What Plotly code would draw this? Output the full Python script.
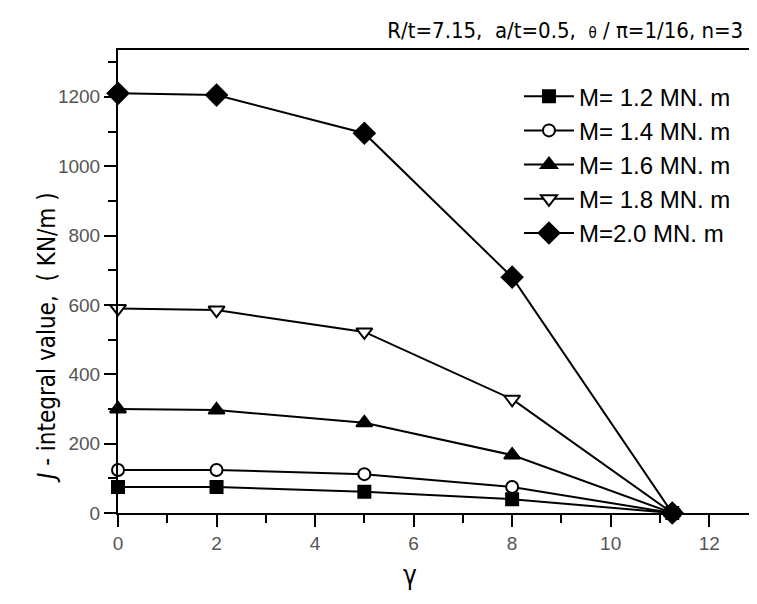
import plotly.graph_objects as go

gamma = [0, 2, 5, 8, 11.25]
j_m12 = [75, 75, 61, 40, 0]
j_m14 = [124, 124, 112, 75, 0]
j_m16 = [300, 297, 260, 167, 0]
j_m18 = [590, 585, 522, 328, 0]
j_m20 = [1210, 1205, 1095, 680, 0]
labels = ["M= 1.2 MN. m", "M= 1.4 MN. m", "M= 1.6 MN. m", "M= 1.8 MN. m", "M=2.0 MN. m"]
series = [j_m12, j_m14, j_m16, j_m18, j_m20]
symbols = ["square", "circle", "triangle-up", "triangle-down", "diamond"]
fills = ["black", "white", "black", "white", "black"]
sizes = [12, 12, 14, 14, 16]

COND = "DejaVu Sans Condensed, Liberation Sans Narrow, Liberation Sans, Arial, sans-serif"
WIDE = "Liberation Sans, Arial, sans-serif"

fig = go.Figure()
for i, (lab, ys) in enumerate(zip(labels, series)):
    fig.add_trace(go.Scatter(
        x=gamma, y=ys, name=lab, mode="lines+markers",
        line=dict(color="black", width=2),
        marker=dict(symbol=symbols[i], size=sizes[i], color=fills[i],
                    line=dict(color="black", width=2)),
        cliponaxis=False, legendgroup=f"g{i}",
    ))

fig.update_layout(
    width=749, height=596,
    margin=dict(l=110, r=0, t=42, b=91),
    paper_bgcolor="white", plot_bgcolor="white",
    font=dict(family=WIDE, color="black"),
    showlegend=True,
    legend=dict(x=0.6275, y=0.948, xanchor="left", yanchor="top",
                bgcolor="rgba(0,0,0,0)", font=dict(size=24, family=WIDE),
                itemwidth=50, tracegroupgap=7, traceorder="normal"),
    title=dict(text="R/t=7.15,  a/t=0.5,  <span style='font-size:15px'>θ</span> / π=1/16, n=3",
               x=0.744, xanchor="center", y=0.963, yanchor="middle",
               font=dict(size=22, family=COND, color="black")),
)
fig.update_xaxes(
    range=[0, 12.97], showgrid=False, zeroline=False,
    showline=True, linecolor="black", linewidth=2, mirror=True,
    ticks="outside", ticklen=12, tickwidth=2, tickcolor="black",
    dtick=2, tick0=0,
    minor=dict(ticks="outside", ticklen=8, tickwidth=2, tickcolor="black", dtick=1),
    tickfont=dict(size=19, color="#555", family=WIDE),
)
fig.update_yaxes(
    range=[0, 1335], showgrid=False, zeroline=False,
    showline=True, linecolor="black", linewidth=2,
    ticks="outside", ticklen=12, tickwidth=2, tickcolor="black",
    dtick=200, tick0=0,
    minor=dict(ticks="outside", ticklen=8, tickwidth=2, tickcolor="black", dtick=100),
    tickfont=dict(size=19, color="#555", family=WIDE),
)
fig.add_annotation(text="<i>J</i> - integral value,  ( KN/m )", x=-0.111, y=0.378,
                   xref="paper", yref="paper", showarrow=False, textangle=-90,
                   font=dict(size=24, family=COND, color="black"),
                   xanchor="center", yanchor="middle")
fig.add_annotation(text="γ", x=0.457, y=-0.134, xref="paper", yref="paper",
                   showarrow=False, font=dict(size=26, family=COND, color="black"),
                   xanchor="center", yanchor="middle")

fig.write_html("out.html")
